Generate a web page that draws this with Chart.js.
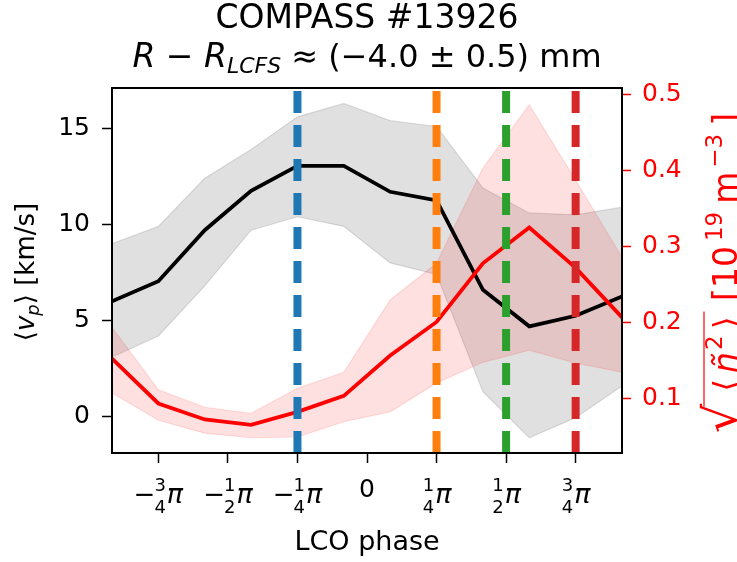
<!DOCTYPE html>
<html>
<head>
<meta charset="utf-8">
<script src="https://cdn.jsdelivr.net/npm/chart.js@4.4.0/dist/chart.umd.min.js"></script>
<style>
  html, body { margin: 0; padding: 0; background: #fff; }
  #wrap { width: 737px; height: 562px; overflow: hidden; }
</style>
</head>
<body>
<div id="wrap"><canvas id="chart" width="737" height="562"></canvas></div>
<script>
// LCO phase bins (in units of pi)
const phase = [-11/12, -9/12, -7/12, -5/12, -3/12, -1/12, 1/12, 3/12, 5/12, 7/12, 9/12, 11/12];

// poloidal velocity <v_p> [km/s] with its spread
const vp   = [6.0, 7.05, 9.7, 11.75, 13.05, 13.05, 11.7, 11.25, 6.6, 4.7, 5.25, 6.25];
const vpHi = [9.0, 9.9, 12.4, 13.9, 15.6, 16.3, 15.4, 15.1, 11.9, 10.6, 10.5, 10.9];
const vpLo = [3.1, 4.2, 6.8, 9.7, 10.4, 9.9, 8.0, 7.4, 1.3, -1.1, -0.05, 1.6];

// density fluctuation amplitude sqrt(<n~^2>) [1e19 m^-3] with its spread
const nf   = [0.153, 0.094, 0.073, 0.066, 0.083, 0.104, 0.157, 0.201, 0.278, 0.325, 0.272, 0.207];
const nfHi = [0.194, 0.112, 0.089, 0.081, 0.114, 0.135, 0.230, 0.278, 0.403, 0.486, 0.387, 0.286];
const nfLo = [0.108, 0.072, 0.055, 0.049, 0.050, 0.070, 0.083, 0.121, 0.148, 0.164, 0.147, 0.135];

// reference phases and their colours
const markPhase  = [-0.25, 0.25, 0.5, 0.75];
const markColors = ['#1f77b4', '#ff7f0e', '#2ca02c', '#d62728'];

// axis ticks
const xTicks      = [-0.75, -0.5, -0.25, 0, 0.25, 0.5, 0.75];
const xTickLabels = ['-3/4', '-1/2', '-1/4', '0', '1/4', '1/2', '3/4'];
const vpTicks     = [0, 5, 10, 15];
const nfTicks     = [0.1, 0.2, 0.3, 0.4, 0.5];

const vpMin = -1.89, vpMax = 17.1;
const nfMin = 0.029, nfMax = 0.508;

const FONT = '"DejaVu Sans", sans-serif';
const pts = (ys) => phase.map((p, i) => ({ x: p, y: ys[i] }));

const datasets = [];
// vertical dashed phase markers (on top)
markPhase.forEach((p, i) => {
  datasets.push({
    data: [{ x: p, y: vpMin }, { x: p, y: vpMax }],
    yAxisID: 'y',
    borderColor: markColors[i],
    borderWidth: 8,
    borderDash: [22, 12],
    borderCapStyle: 'butt',
    pointRadius: 0,
    fill: false,
    order: 0
  });
});
datasets.push({
  data: pts(nf), yAxisID: 'y2', borderColor: '#ff0000', borderWidth: 3.8,
  pointRadius: 0, fill: false, order: 1
});
datasets.push({
  data: pts(vp), yAxisID: 'y', borderColor: '#000000', borderWidth: 3.8,
  pointRadius: 0, fill: false, order: 2
});
// red spread band
datasets.push({
  data: pts(nfHi), yAxisID: 'y2', borderColor: 'rgba(255,0,0,0.12)', borderWidth: 1.2,
  backgroundColor: 'rgba(255,0,0,0.12)', pointRadius: 0, fill: '+1', order: 3
});
datasets.push({
  data: pts(nfLo), yAxisID: 'y2', borderColor: 'rgba(255,0,0,0.12)', borderWidth: 1.2,
  pointRadius: 0, fill: false, order: 3
});
// grey spread band
datasets.push({
  data: pts(vpHi), yAxisID: 'y', borderColor: 'rgba(0,0,0,0.12)', borderWidth: 1.2,
  backgroundColor: 'rgba(0,0,0,0.12)', pointRadius: 0, fill: '+1', order: 4
});
datasets.push({
  data: pts(vpLo), yAxisID: 'y', borderColor: 'rgba(0,0,0,0.12)', borderWidth: 1.2,
  pointRadius: 0, fill: false, order: 4
});

// draw a row of text pieces with different fonts, centred on x
function drawRuns(ctx, runs, x, y) {
  let total = 0;
  runs.forEach(r => { ctx.font = r.font; r.w = ctx.measureText(r.t).width + (r.pad || 0); total += r.w; });
  let cx = x - total / 2;
  ctx.textAlign = 'left';
  ctx.textBaseline = 'alphabetic';
  runs.forEach(r => {
    ctx.font = r.font;
    ctx.fillText(r.t, cx, y + (r.dy || 0));
    if (r.over) r.over(cx, r.w);
    cx += r.w;
  });
  return total;
}

function drawPiLabel(ctx, label, cx) {
  ctx.fillStyle = '#000';
  ctx.textBaseline = 'alphabetic';
  if (label === '0') {
    ctx.font = '25px ' + FONT;
    ctx.textAlign = 'center';
    ctx.fillText('0', cx, 497);
    return;
  }
  const neg = label[0] === '-';
  const [num, den] = label.replace('-', '').split('/');
  ctx.font = '26px ' + FONT;
  const wMinus = neg ? ctx.measureText('\u2212').width - 2 : 0;
  ctx.font = '18px ' + FONT;
  const wFrac = Math.max(ctx.measureText(num).width, ctx.measureText(den).width) + 2;
  ctx.font = 'italic 27px ' + FONT;
  const wPi = ctx.measureText('\u03c0').width;
  let x0 = cx - (wMinus + wFrac + wPi) / 2;
  ctx.textAlign = 'left';
  if (neg) {
    ctx.font = '26px ' + FONT;
    ctx.fillText('\u2212', x0, 503);
    x0 += wMinus;
  }
  ctx.font = '18px ' + FONT;
  ctx.textAlign = 'center';
  ctx.fillText(num, x0 + wFrac / 2, 491);
  ctx.fillText(den, x0 + wFrac / 2, 513);
  x0 += wFrac;
  ctx.textAlign = 'left';
  ctx.font = 'italic 27px ' + FONT;
  ctx.fillText('\u03c0', x0, 503);
}

const decorations = {
  id: 'decorations',
  afterDatasetsDraw(chart) {
    const { ctx, chartArea: a } = chart;
    ctx.save();
    ctx.strokeStyle = '#000';
    ctx.lineWidth = 2;
    ctx.strokeRect(a.left, a.top, a.right - a.left, a.bottom - a.top);
    ctx.restore();
  },
  afterDraw(chart) {
    const { ctx, chartArea: a } = chart;
    const xs = chart.scales.x;
    const mid = (a.left + a.right) / 2;
    ctx.save();
    ctx.fillStyle = '#000';

    // title
    ctx.font = '33px ' + FONT;
    ctx.textAlign = 'center';
    ctx.textBaseline = 'alphabetic';
    ctx.fillText('COMPASS #13926', mid, 28);
    drawRuns(ctx, [
      { t: 'R', font: 'italic 33px ' + FONT },
      { t: ' \u2212 ', font: '33px ' + FONT },
      { t: 'R', font: 'italic 33px ' + FONT },
      { t: 'LCFS', font: 'italic 22px ' + FONT, dy: 6 },
      { t: ' \u2248 (\u22124.0 \u00b1 0.5) mm', font: '32px ' + FONT }
    ], mid, 67);

    // x tick labels as fractions of pi
    xTicks.forEach((v, i) => drawPiLabel(ctx, xTickLabels[i], xs.getPixelForValue(v)));

    // x axis title
    ctx.fillStyle = '#000';
    ctx.font = '27px ' + FONT;
    ctx.textAlign = 'center';
    ctx.fillText('LCO phase', mid, 550);

    // left axis title
    ctx.save();
    ctx.translate(34, 272);
    ctx.rotate(-Math.PI / 2);
    drawRuns(ctx, [
      { t: '\u27e8', font: '26px ' + FONT },
      { t: 'v', font: 'italic 26px ' + FONT },
      { t: 'p', font: 'italic 18px ' + FONT, dy: 5 },
      { t: '\u27e9', font: '26px ' + FONT },
      { t: ' [km/s]', font: '26px ' + FONT }
    ], 0, 0);
    ctx.restore();

    // right axis title (runs past the canvas edge a little)
    ctx.save();
    ctx.fillStyle = '#ff0000';
    ctx.strokeStyle = '#ff0000';
    ctx.lineWidth = 1.2;
    ctx.translate(737, 273);
    ctx.rotate(-Math.PI / 2);
    let overStart = null;
    drawRuns(ctx, [
      { t: '\u221a', font: '46px ' + FONT, pad: 12, over: (x, w) => { overStart = x + w - 15; } },
      { t: '\u27e8', font: '33px ' + FONT, pad: 6 },
      { t: '\u00f1', font: 'italic 33px ' + FONT, pad: 2 },
      { t: '2', font: '23px ' + FONT, dy: -15, pad: 6 },
      { t: '\u27e9', font: '33px ' + FONT, pad: 5, over: (x, w) => {
          ctx.beginPath();
          ctx.moveTo(overStart, -33);
          ctx.lineTo(x + w, -33);
          ctx.stroke();
        } },
      { t: ' [10', font: '33px ' + FONT, pad: 5 },
      { t: '19', font: '23px ' + FONT, dy: -15, pad: 8 },
      { t: 'm', font: '33px ' + FONT, pad: 4 },
      { t: '\u22123', font: '23px ' + FONT, dy: -15, pad: 8 },
      { t: ']', font: '33px ' + FONT }
    ], 0, 0);
    ctx.restore();

    ctx.restore();
  }
};

new Chart(document.getElementById('chart'), {
  type: 'line',
  data: { datasets: datasets },
  options: {
    responsive: false,
    animation: false,
    events: [],
    layout: { padding: { top: 88, left: 0, right: 0, bottom: 0 } },
    plugins: {
      legend: { display: false },
      tooltip: { enabled: false },
      title: { display: false }
    },
    scales: {
      x: {
        type: 'linear',
        min: -11/12,
        max: 11/12,
        afterBuildTicks: (s) => { s.ticks = xTicks.map(v => ({ value: v })); },
        afterFit: (s) => { s.height = 109; },
        border: { display: false },
        grid: { drawOnChartArea: false, drawTicks: true, tickLength: 10, tickWidth: 1.5, color: '#000' },
        ticks: { callback: () => '', padding: 0 }
      },
      y: {
        type: 'linear',
        position: 'left',
        min: vpMin,
        max: vpMax,
        afterBuildTicks: (s) => { s.ticks = vpTicks.map(v => ({ value: v })); },
        afterFit: (s) => { s.width = 112; },
        border: { display: false },
        grid: { drawOnChartArea: false, drawTicks: true, tickLength: 10, tickWidth: 1.5, color: '#000' },
        ticks: { color: '#000', padding: 12, font: { family: FONT, size: 25 } }
      },
      y2: {
        type: 'linear',
        position: 'right',
        min: nfMin,
        max: nfMax,
        afterBuildTicks: (s) => { s.ticks = nfTicks.map(v => ({ value: v })); },
        afterFit: (s) => { s.width = 115; },
        border: { display: false },
        grid: { drawOnChartArea: false, drawTicks: true, tickLength: 9, tickWidth: 1.5, color: '#ff0000' },
        ticks: { color: '#ff0000', padding: 11, font: { family: FONT, size: 25 },
                 callback: (v) => v.toFixed(1) }
      }
    }
  },
  plugins: [decorations]
});
</script>
</body>
</html>
